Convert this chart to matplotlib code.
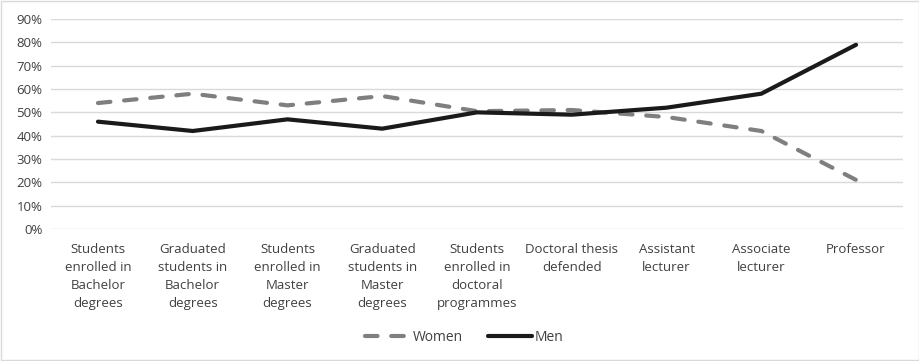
import matplotlib.pyplot as plt
from matplotlib.ticker import PercentFormatter

categories = [
    "Students\nenrolled in\nBachelor\ndegrees",
    "Graduated\nstudents in\nBachelor\ndegrees",
    "Students\nenrolled in\nMaster\ndegrees",
    "Graduated\nstudents in\nMaster\ndegrees",
    "Students\nenrolled in\ndoctoral\nprogrammes",
    "Doctoral thesis\ndefended",
    "Assistant\nlecturer",
    "Associate\nlecturer",
    "Professor",
]
women = [54, 58, 53, 57, 50.5, 51, 48, 42, 21]
men = [46, 42, 47, 43, 50, 49, 52, 58, 79]

plt.rcParams['font.family'] = ['Open Sans', 'DejaVu Sans']

fig = plt.figure(figsize=(9.2, 3.61), dpi=100)
ax = fig.add_axes([0.055, 0.366, 0.927, 0.581])

x = range(len(categories))
ax.plot(x, women, color='#7f7f7f', linewidth=3, linestyle=(0, (3.0, 3.3)),
        dash_capstyle='round', label='Women')
ax.plot(x, men, color='#1a1a1a', linewidth=3, solid_capstyle='round', label='Men')

ax.set_xlim(-0.5, len(categories) - 0.5)
ax.set_ylim(0, 90)
ax.set_yticks(range(0, 91, 10))
ax.yaxis.set_major_formatter(PercentFormatter(decimals=0))
ax.set_xticks(list(x))
ax.set_xticklabels(categories, fontsize=9.5, color='#404040', linespacing=1.5)
ax.tick_params(axis='y', labelsize=9.5, labelcolor='#404040', length=0, pad=6)
ax.tick_params(axis='x', length=0, pad=10)
ax.grid(axis='y', color='#d9d9d9', linewidth=1)
ax.set_axisbelow(True)
for s in ax.spines.values():
    s.set_visible(False)

fig.legend(loc='center', bbox_to_anchor=(0.505, 0.065), ncol=2, frameon=False,
           fontsize=10, handlelength=3.2, columnspacing=1.8, handletextpad=0.2,
           labelcolor='#404040')

fig.patches.append(plt.Rectangle((0.001, 0.002), 0.998, 0.996, transform=fig.transFigure,
                                 fill=False, edgecolor='#d9d9d9', linewidth=1))

fig.savefig('out.png', dpi=100)
